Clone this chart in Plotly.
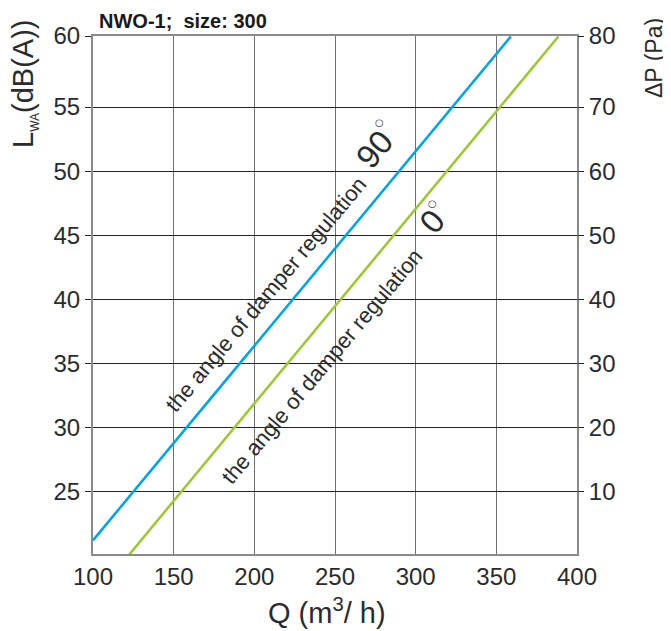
import plotly.graph_objects as go

# Data (Q in m3/h, dP in Pa on right axis)
q_90 = [100, 359]
dp_90 = [2.4, 81.0]
q_0 = [122.5, 388.5]
dp_0 = [0.2, 81.0]

x_ticks = [100, 150, 200, 250, 300, 350, 400]
left_tickvals = [25, 30, 35, 40, 45, 50, 55, 60.54]
left_ticktext = ["25", "30", "35", "40", "45", "50", "55", "60"]
right_tickvals = [10, 20, 30, 40, 50, 60, 70, 81.08]
right_ticktext = ["10", "20", "30", "40", "50", "60", "70", "80"]

BLUE = "#00A3E0"
GREEN = "#9EC63A"
FONT = "Liberation Sans, Arial, sans-serif"
TXT = "#2b2b2b"

fig = go.Figure()
fig.add_trace(go.Scatter(x=q_90, y=dp_90, mode="lines", yaxis="y2",
                         line=dict(color=BLUE, width=2.6), showlegend=False,
                         hoverinfo="skip"))
fig.add_trace(go.Scatter(x=q_0, y=dp_0, mode="lines", yaxis="y2",
                         line=dict(color=GREEN, width=2.6), showlegend=False,
                         hoverinfo="skip"))

# page body has an 8px margin; work in screen pixels and shift
OFF = 8
SW, SH = 671, 631
W, H = SW - OFF, SH - OFF
PL, PR, PT, PB = 93, 577, 36, 554  # plot area in screen pixels
L, R, T, B = PL - OFF, W - (PR - OFF), PT - OFF, H - (PB - OFF)
pw, ph = W - L - R, H - T - B

def px(x):
    return (x - OFF - L) / pw

def py(y):
    return (H - B - (y - OFF)) / ph

fig.update_layout(
    width=W, height=H,
    margin=dict(l=L, r=R, t=T, b=B, pad=0),
    paper_bgcolor="white", plot_bgcolor="white",
    font=dict(family=FONT, color=TXT, size=24),
    xaxis=dict(range=[100, 400], tickvals=x_ticks, showgrid=True,
               gridcolor="#707070", gridwidth=1.2, showline=True,
               linecolor="#8a8a8a", linewidth=2, mirror=True,
               ticks="", zeroline=False, tickfont=dict(size=24, color=TXT)),
    yaxis=dict(range=[20.14, 60.54], tickvals=left_tickvals,
               ticktext=left_ticktext, showgrid=True, gridcolor="#222222",
               gridwidth=1, showline=True, linecolor="#8a8a8a", linewidth=2,
               mirror=True, ticks="outside", ticklen=6, tickcolor="#222222",
               zeroline=False, tickfont=dict(size=24, color=TXT)),
    yaxis2=dict(range=[0.28, 81.08], tickvals=right_tickvals,
                ticktext=right_ticktext, overlaying="y", side="right",
                showgrid=False, ticks="outside", ticklen=6,
                tickcolor="#222222", zeroline=False, showline=False,
                tickfont=dict(size=24, color=TXT)),
)

ann = []
# Title
ann.append(dict(text="<b>NWO-1;  size: 300</b>", xref="paper", yref="paper",
                x=px(97), y=py(21), xanchor="left", yanchor="middle",
                showarrow=False, font=dict(size=20, color="#1a1a1a")))
# Axis titles
ann.append(dict(text="L<sub><span style='font-size:12px'>WA</span></sub>(dB(A))",
                xref="paper", yref="paper", x=px(24), y=py(84),
                xanchor="center", yanchor="middle", textangle=-90,
                showarrow=False, font=dict(size=29, color=TXT)))
ann.append(dict(text="ΔP (Pa)", xref="paper", yref="paper", x=px(654),
                y=py(58), xanchor="center", yanchor="middle", textangle=-90,
                showarrow=False, font=dict(size=23, color=TXT)))
ann.append(dict(text="Q (m<sup>3</sup>/ h)", xref="paper", yref="paper",
                x=px(327), y=py(611), xanchor="center", yanchor="middle",
                showarrow=False, font=dict(size=29, color=TXT)))
# Curve labels
ann.append(dict(text="the angle of damper regulation", xref="x", yref="y",
                x=207.2, y=40.37, textangle=-50, showarrow=False,
                font=dict(size=22, color=TXT)))
ann.append(dict(text="the angle of damper regulation", xref="x", yref="y",
                x=241.9, y=34.75, textangle=-50, showarrow=False,
                font=dict(size=22, color=TXT)))
ann.append(dict(text="90", xref="x", yref="y", x=274.2, y=51.7,
                textangle=-50, showarrow=False, font=dict(size=33, color=TXT)))
ann.append(dict(text="○", xref="x", yref="y", x=277.3, y=53.8,
                showarrow=False, font=dict(size=10, color=TXT, family="DejaVu Sans")))
ann.append(dict(text="0", xref="x", yref="y", x=310.1, y=46.07,
                textangle=-50, showarrow=False, font=dict(size=33, color=TXT)))
ann.append(dict(text="○", xref="x", yref="y", x=310.7, y=47.5,
                showarrow=False, font=dict(size=10, color=TXT, family="DejaVu Sans")))
fig.update_layout(annotations=ann)

fig.write_html("out.html")
